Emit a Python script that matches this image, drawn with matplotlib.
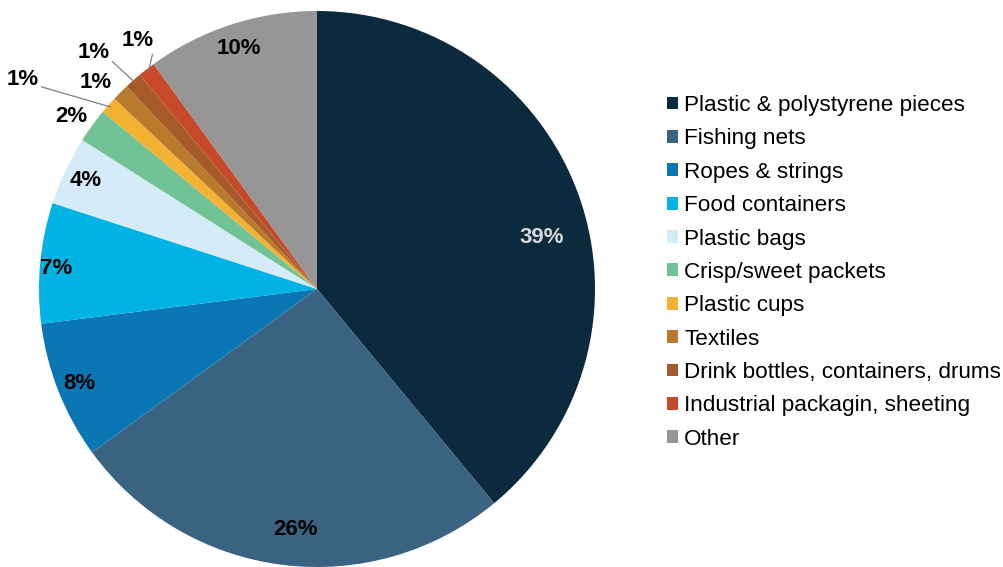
import numpy as np
import matplotlib
matplotlib.use("Agg")
from matplotlib import pyplot as plt

plt.rcParams['font.family'] = ['Liberation Sans', 'DejaVu Sans']

# data
categories = ["Plastic & polystyrene pieces", "Fishing nets", "Ropes & strings",
              "Food containers", "Plastic bags", "Crisp/sweet packets", "Plastic cups",
              "Textiles", "Drink bottles, containers, drums",
              "Industrial packagin, sheeting", "Other"]
shares = [39, 26, 8, 7, 4, 2, 1, 1, 1, 1, 10]
colors = ["#0C2A3E", "#3A6281", "#0A77B4", "#00B3E4", "#D6EBF8", "#71C396",
          "#F4B233", "#B97A2E", "#A65A2A", "#C64A29", "#969696"]

# label placement: radius factor, angle tweak (deg), leader line?
label_r = [0.83, 0.87, 0.92, 0.94, 0.92, 1.08, 1.30, 1.09, 1.17, 1.10, 0.91]
label_dang = [-7, 2, 0, 1, 0, 1, 6, 2, 2, -2, 0]
leader = [False, False, False, False, False, False, True, False, True, True, False]

fig = plt.figure(figsize=(10.04, 5.67), dpi=100)
ax = fig.add_axes([0, 0, 1, 1])

cx, cy, R = 317, 278, 278
wedges, _ = ax.pie(shares, colors=colors, startangle=90, counterclock=False,
                   center=(cx, cy), radius=R, frame=True,
                   wedgeprops=dict(linewidth=0))
ax.set_xlim(0, 1004)
ax.set_ylim(0, 567)
ax.set_aspect('equal')
ax.axis('off')

for i, w in enumerate(wedges):
    mid = 0.5 * (w.theta1 + w.theta2)
    ang = np.deg2rad(mid + label_dang[i])
    tx = cx + R * label_r[i] * np.cos(ang)
    ty = cy + R * label_r[i] * np.sin(ang)
    txt = "%d%%" % shares[i]
    tcol = "#D9D9D9" if i == 0 else "#000000"
    if leader[i]:
        ex = cx + R * 0.99 * np.cos(np.deg2rad(mid))
        ey = cy + R * 0.99 * np.sin(np.deg2rad(mid))
        ax.annotate(txt, xy=(ex, ey), xytext=(tx, ty), ha='center', va='center',
                    fontsize=16, fontweight='bold', color=tcol,
                    arrowprops=dict(arrowstyle='-', color='#808080', lw=0.9,
                                    shrinkA=0, shrinkB=0, relpos=(1.0, 0.2)))
    else:
        ax.text(tx, ty, txt, ha='center', va='center', fontsize=16,
                fontweight='bold', color=tcol)

fig.legend(wedges, categories, loc='upper left', bbox_to_anchor=(667 / 1004, 1 - 95 / 567),
           frameon=False, fontsize=16.2, handlelength=0.5, handleheight=0.5,
           handletextpad=0.27, labelspacing=0.55, borderaxespad=0, borderpad=0)

fig.savefig("out.png", dpi=100)
